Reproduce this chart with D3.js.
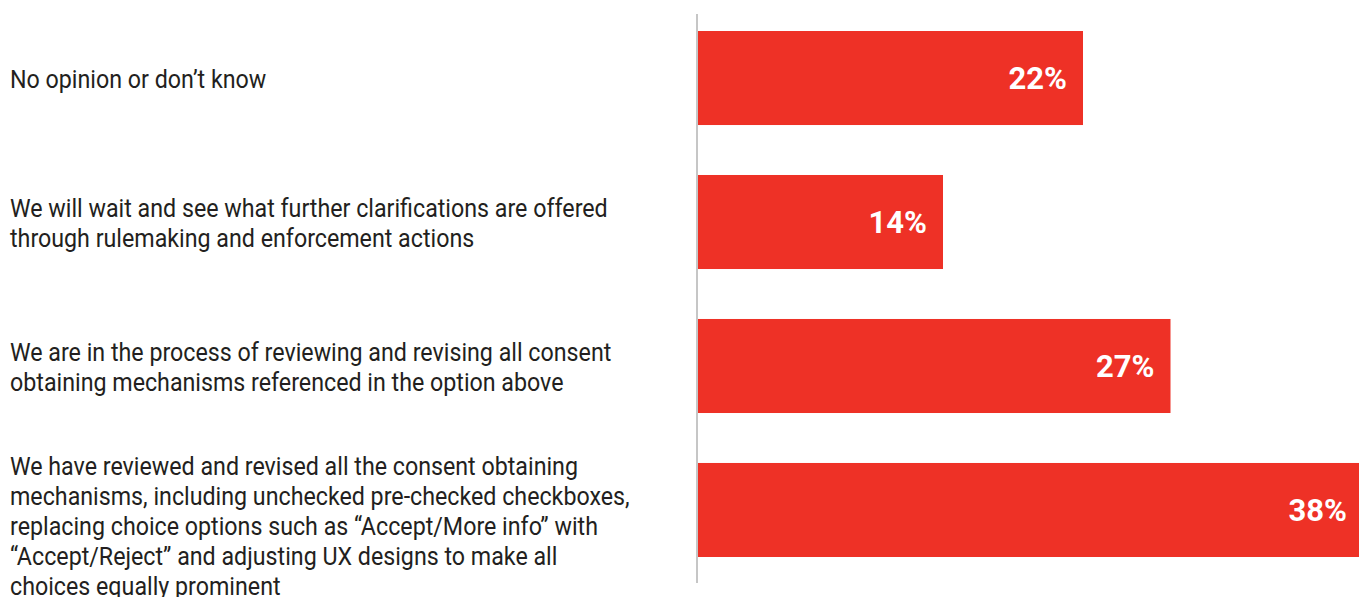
<!DOCTYPE html>
<html>
<head>
<meta charset="utf-8">
<script src="https://cdn.jsdelivr.net/npm/d3@7/dist/d3.min.js"></script>
<style>
  html, body { margin: 0; padding: 0; background: #ffffff; overflow: hidden; }
  svg { display: block; }
</style>
</head>
<body>
<svg id="chart" width="1359" height="597"></svg>
<script>
// Survey responses, top to bottom; "\n" marks a line break in the label
const categories = [
  "No opinion or don\u2019t know",
  "We will wait and see what further clarifications are offered\nthrough rulemaking and enforcement actions",
  "We are in the process of reviewing and revising all consent\nobtaining mechanisms referenced in the option above",
  "We have reviewed and revised all the consent obtaining\nmechanisms, including unchecked pre-checked checkboxes,\nreplacing choice options such as \u201cAccept/More info\u201d with\n\u201cAccept/Reject\u201d and adjusting UX designs to make all\nchoices equally prominent"
];
const values = [22, 14, 27, 38];   // percent of respondents
const valueLabels = ["22%", "14%", "27%", "38%"];

const svg = d3.select("#chart");
const barColor = "#ee3126";
const textColor = "#231f20";

const x = d3.scaleLinear().domain([0, 38]).range([698, 1363]);
const y = d3.scaleBand().domain(categories).range([31, 557]).paddingInner(0.347).paddingOuter(0);

// bars
svg.append("g").selectAll("rect")
  .data(categories)
  .join("rect")
  .attr("x", x(0))
  .attr("y", d => y(d))
  .attr("width", (d, i) => x(values[i]) - x(0))
  .attr("height", y.bandwidth())
  .attr("fill", barColor);

// baseline axis
svg.append("line")
  .attr("x1", x(0) - 1).attr("x2", x(0) - 1)
  .attr("y1", y.range()[0] - 17).attr("y2", y.range()[1] + 26)
  .attr("stroke", "#c6c6c6").attr("stroke-width", 2);

// value labels inside bar ends
svg.append("g").selectAll("text")
  .data(categories)
  .join("text")
  .attr("x", (d, i) => x(values[i]) - 16)
  .attr("y", d => y(d) + y.bandwidth() / 2)
  .attr("dy", "0.36em")
  .attr("text-anchor", "end")
  .attr("fill", "#ffffff")
  .attr("font-family", "Roboto, 'Noto Sans', sans-serif")
  .attr("font-weight", 700)
  .attr("font-size", 31)
  .text((d, i) => valueLabels[i]);

// category labels, condensed
const lineHeight = 30;
const labelScale = 0.877;
const labels = svg.append("g").selectAll("g")
  .data(categories)
  .join("g")
  .attr("transform", d => `translate(10,${y(d) + y.bandwidth() / 2}) scale(${labelScale},1)`);

labels.each(function(d) {
  const lines = d.split("\n");
  const centerOn = Math.min(lines.length, 4);
  d3.select(this).selectAll("text")
    .data(lines)
    .join("text")
    .attr("x", 0)
    .attr("y", (l, i) => (i - (centerOn - 1) / 2) * lineHeight)
    .attr("dy", "0.36em")
    .attr("fill", textColor)
    .attr("font-family", "Roboto, 'Noto Sans', sans-serif")
    .attr("font-size", 26.5)
    .text(l => l);
});
</script>
</body>
</html>
